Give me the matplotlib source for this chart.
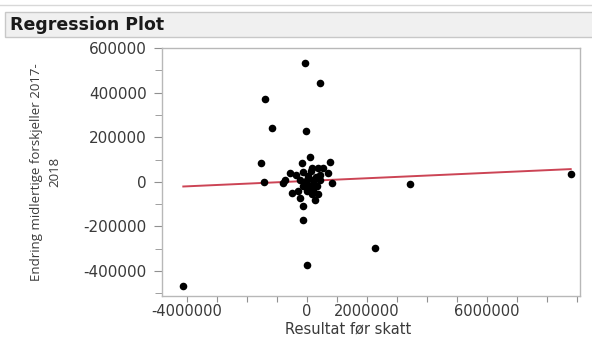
import matplotlib
matplotlib.use("Agg")
import matplotlib.pyplot as plt
import numpy as np
from matplotlib.patches import Rectangle
from matplotlib.ticker import FixedLocator, FuncFormatter

plt.rcParams['font.family'] = ['DejaVu Sans']

# Data
resultat = [-0.07e6, 0.43e6, -1.40e6, -1.16e6, -0.03e6, -1.53e6, -1.44e6, 3.43e6,
            8.79e6, 2.28e6, -0.01e6, -4.12e6,
            0.10e6, 0.77e6, -0.18e6, 0.16e6, 0.38e6, 0.54e6, -0.57e6, -0.12e6,
            0.71e6, -0.73e6, -0.79e6, -0.23e6, -0.01e6, 0.21e6, 0.43e6, 0.82e6,
            -0.12e6, 0.10e6, 0.32e6, -0.51e6, -0.29e6, 0.16e6, 0.38e6, -0.23e6,
            0.27e6, -0.12e6, -0.12e6, 0.05e6, 0.30e6, -0.05e6, 0.20e6, 0.00e6,
            0.45e6, -0.35e6, 0.12e6, 0.25e6]
endring = [534e3, 444e3, 370e3, 243e3, 230e3, 86e3, -3e3, -9e3,
           36e3, -298e3, -373e3, -465e3,
           113e3, 91e3, 86e3, 64e3, 64e3, 64e3, 39e3, 46e3,
           39e3, 9e3, -6e3, 9e3, 9e3, 9e3, 9e3, -6e3,
           -21e3, -21e3, -21e3, -51e3, -43e3, -56e3, -56e3, -73e3,
           -81e3, -110e3, -170e3, 25e3, 20e3, -5e3, -35e3, -40e3,
           30e3, 31e3, 50e3, -10e3]

fit_slope = 0.00604
fit_intercept = 3.9e3

x_tick_values = [-4e6, -3e6, -2e6, -1e6, 0, 1e6, 2e6, 3e6, 4e6, 5e6, 6e6, 7e6, 8e6, 9e6]
x_tick_labels = ['-4000000', '', '', '', '0', '', '2000000', '', '', '', '6000000', '', '', '']
y_tick_values = [-400000, -200000, 0, 200000, 400000, 600000]
y_tick_labels = ['-400000', '-200000', '0', '200000', '400000', '600000']

W, H = 592, 338
fig = plt.figure(figsize=(W / 100, H / 100), dpi=100)
fig.patch.set_facecolor('white')

# header bar
fig.add_artist(plt.Line2D([0, 1], [1 - 5 / H, 1 - 5 / H], color='#d8d8d8', lw=1,
                          transform=fig.transFigure))
fig.add_artist(Rectangle((5 / W, 1 - 37 / H), 1.0, 25 / H, transform=fig.transFigure,
                         facecolor='#f0f0f0', edgecolor='#c8c8c8', lw=1))
fig.text(10 / W, 1 - 24.5 / H, 'Regression Plot', fontsize=12.5, fontweight='bold',
         va='center', ha='left', color='#1a1a1a')

ax = fig.add_axes([162 / W, 1 - 296 / H, (580 - 162) / W, (296 - 48) / H])
ax.scatter(resultat, endring, s=30, color='black', zorder=3, linewidths=0)

xs = np.array([min(resultat), max(resultat)])
ax.plot(xs, fit_intercept + fit_slope * xs, color='#cc4455', lw=1.4, zorder=2)

ax.set_xlim(-4.83e6, 9.1e6)
ax.set_ylim(-512000, 600000)

xlab = {round(v): l for v, l in zip(x_tick_values, x_tick_labels)}
ax.xaxis.set_major_locator(FixedLocator(x_tick_values))
ax.xaxis.set_major_formatter(FuncFormatter(lambda v, p: xlab.get(round(v), '')))
ylab = {round(v): l for v, l in zip(y_tick_values, y_tick_labels)}
ax.yaxis.set_major_locator(FixedLocator(y_tick_values))
ax.yaxis.set_major_formatter(FuncFormatter(lambda v, p: ylab.get(round(v), '')))
ax.yaxis.set_minor_locator(FixedLocator(np.arange(-500000, 600001, 100000)))

for s in ax.spines.values():
    s.set_color('#b8b8b8')
    s.set_linewidth(1)
ax.tick_params(axis='both', which='major', color='#909090', labelcolor='#3a3a3a')
ax.tick_params(axis='y', which='major', length=6, pad=5, labelsize=11)
ax.tick_params(axis='x', which='major', length=4, pad=2, labelsize=10.5)
ax.tick_params(axis='y', which='minor', length=5, color='#909090')

ax.set_xlabel('Resultat før skatt', fontsize=10.5, color='#3a3a3a')
ax.xaxis.label.set_va('center')
ax.xaxis.set_label_coords(0.445, -0.135)
ax.set_ylabel('Endring midlertige forskjeller 2017-\n2018', fontsize=9.5,
              color='#3a3a3a', linespacing=1.5, family='Open Sans')
ax.yaxis.label.set_va('center')
ax.yaxis.set_label_coords(-0.278, 0.5)

fig.savefig('out.png', dpi=100, facecolor='white')
